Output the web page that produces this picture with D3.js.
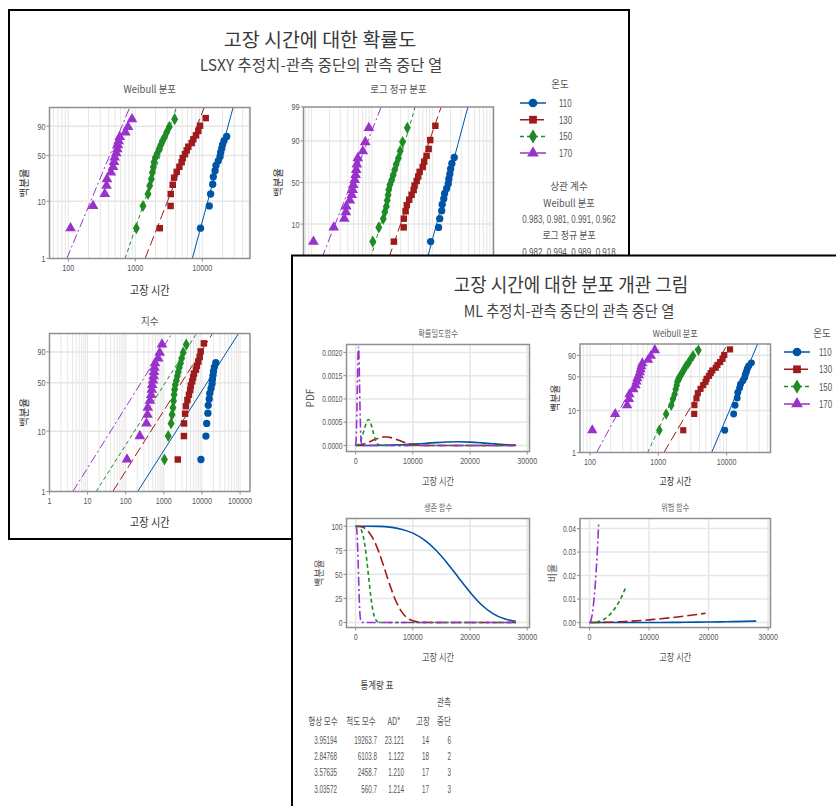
<!DOCTYPE html>
<html>
<head>
<meta charset="utf-8">
<script src="https://cdn.jsdelivr.net/npm/d3@7"></script>
<style>
  body { margin: 0; background: #fff; }
  svg text { font-family: "Noto Sans CJK KR", "Noto Sans", sans-serif; }
  svg text.num { font-family: "Liberation Sans", "Noto Sans", sans-serif; }
</style>
</head>
<body>
<svg id="chart" width="836" height="806"></svg>
<script>
// ---- groups ----
const temps = ["110", "130", "150", "170"];
const colors = ["#0054a6", "#9e1b1b", "#1e8b24", "#9932cc"];
const dashes = [null, "10,4", "4,3", "9,3,2,3"];
const symbols = [d3.symbolCircle, d3.symbolSquare, d3.symbolDiamond, d3.symbolTriangle];

// ---- failure times and plotting positions (%) ----
const fail110 = [9400, 12700, 13300, 14300, 14600, 15500, 16000, 17300, 18400, 18800, 19500, 20100, 21100, 23100];
const pct110  = [3.43, 8.33, 13.24, 19.12, 25.0, 30.88, 36.76, 42.65, 48.53, 54.41, 60.29, 66.18, 72.06, 77.94];
const fail130 = [2320, 3360, 3380, 3620, 3790, 4150, 4550, 4920, 5100, 5520, 5850, 6180, 6940, 7340, 8050, 8710, 9250, 11240];
const pct130  = [3.43, 8.33, 13.24, 18.75, 24.26, 29.78, 35.29, 40.81, 46.32, 51.84, 57.35, 62.87, 68.38, 73.9, 79.41, 84.93, 90.44, 95.96];
const fail150 = [1036, 1303, 1547, 1639, 1735, 1796, 1858, 1902, 1991, 2133, 2258, 2391, 2532, 2744, 2940, 3221, 3869];
const pct150  = [3.43, 8.33, 13.24, 18.14, 23.04, 29.07, 35.1, 41.13, 47.16, 53.19, 59.22, 65.25, 71.27, 77.3, 83.33, 89.36, 95.39];
const fail170 = [108, 234, 350, 372, 378, 432, 465, 481, 493, 520, 539, 552, 565, 585, 710, 778, 893];
const pct170  = [3.43, 8.33, 13.24, 18.14, 23.04, 29.07, 35.1, 41.13, 47.16, 53.19, 59.22, 65.25, 71.27, 77.3, 83.33, 89.36, 95.39];

// ---- fitted lines: time at the lower and upper plotted percent ----
const wblLsxyLow  = [7100, 1400, 705, 95];
const wblLsxyHigh = [28800, 10700, 4100, 824];
const lnLsxyLow   = [8320, 1910, 958, 149];
const lnLsxyHigh  = [38800, 14030, 5212, 1426];
const expLsxyLow  = [206, 45.7, 16.7, 4.1];
const expLsxyHigh = [90800, 18930, 7210, 1625];
const wblMlLow    = [6050, 1210, 700, 125];
const wblMlHigh   = [28500, 10400, 3800, 900];

// ---- correlation coefficients ----
const corrWeibull = ["0.983", "0.981", "0.991", "0.962"];
const corrLognormal = ["0.982", "0.994", "0.989", "0.918"];

// ---- PDF / survival curves ----
const grid110 = [0, 2000, 4000, 6000, 8000, 10000, 12000, 14000, 16000, 18000, 20000, 22000, 24000, 26000, 28000];
const pdf110  = [0, 0.0000003, 0.000002, 0.0000065, 0.0000148, 0.0000275, 0.0000435, 0.0000602, 0.0000734, 0.0000782, 0.0000719, 0.0000559, 0.0000362, 0.0000188, 0.0000077];
const surv110 = [100, 99.99, 99.8, 99.0, 96.9, 92.8, 85.7, 75.3, 61.9, 46.5, 31.4, 18.4, 9.2, 3.8, 1.25];
const grid130 = [0, 1000, 2000, 3000, 4000, 5000, 5500, 6000, 7000, 8000, 9000, 10000, 11000, 12000, 14000, 28000];
const pdf130  = [0, 0.0000164, 0.000057, 0.00011, 0.000158, 0.000183, 0.000183, 0.000174, 0.000137, 0.0000886, 0.0000466, 0.0000196, 0.0000066, 0.0000017, 0, 0];
const surv130 = [100, 99.4, 95.9, 87.6, 74.1, 56.7, 47.6, 38.6, 22.8, 11.5, 4.87, 1.69, 0.47, 0.1, 0, 0];
const grid150 = [0, 500, 1000, 1500, 2000, 2250, 2500, 3000, 3500, 4000, 4500, 5000, 28000];
const pdf150  = [0, 0.0000239, 0.000137, 0.000343, 0.00053, 0.000559, 0.000525, 0.000317, 0.000105, 0.0000171, 0.0000012, 0, 0];
const surv150 = [100, 99.66, 96.07, 84.3, 62.0, 48.3, 34.6, 13.0, 2.92, 0.33, 0.02, 0, 0];
const grid170 = [0, 100, 200, 300, 400, 450, 500, 550, 600, 700, 800, 900, 1000, 1200, 1500, 28000];
const pdf170  = [0, 0.000161, 0.000635, 0.001305, 0.001903, 0.002072, 0.002117, 0.002027, 0.00182, 0.001196, 0.000589, 0.000211, 0.0000537, 0.000001, 0, 0];
const surv170 = [100, 99.47, 95.7, 86.1, 69.9, 59.9, 49.3, 38.9, 29.3, 14.1, 5.28, 1.49, 0.31, 0, 0, 0];

// ---- hazard curves ----
const hazT110 = [0, 2000, 4000, 6000, 8000, 10000, 12000, 14000, 16000, 18000, 20000, 22000, 24000, 26000, 28000];
const haz110  = [0, 0.0000003, 0.000002, 0.0000066, 0.0000153, 0.0000296, 0.0000507, 0.00008, 0.000119, 0.000168, 0.000229, 0.000304, 0.000393, 0.000497, 0.000619];
const hazT130 = [0, 1000, 2000, 3000, 4000, 5000, 6000, 7000, 8000, 9000, 10000, 11000, 12000, 14000, 16000, 18000, 19500];
const haz130  = [0, 0.0000165, 0.0000594, 0.000126, 0.000214, 0.000323, 0.000452, 0.000601, 0.000769, 0.000956, 0.001162, 0.001386, 0.001627, 0.002162, 0.00277, 0.003443, 0.00399];
const hazT150 = [0, 500, 1000, 1500, 2000, 2500, 3000, 3500, 4000, 4500, 5000, 5500, 6000];
const haz150  = [0, 0.000024, 0.000143, 0.000407, 0.000854, 0.001518, 0.002429, 0.003612, 0.005096, 0.006902, 0.009054, 0.011573, 0.014483];
const hazT170 = [0, 100, 200, 300, 400, 500, 600, 700, 800, 900, 1000, 1200, 1400, 1530];
const haz170  = [0, 0.000162, 0.000663, 0.001516, 0.002723, 0.004289, 0.006216, 0.008507, 0.011165, 0.014192, 0.017588, 0.02548, 0.03489, 0.0418];

// ---- statistics table ----
const tblShape = ["3.95194", "2.84768", "3.57635", "3.03572"];
const tblScale = ["19263.7", "6103.8", "2458.7", "560.7"];
const tblAD    = ["23.121", "1.122", "1.210", "1.214"];
const tblFail  = [14, 18, 17, 17];
const tblCens  = [6, 2, 3, 3];

// ---- tick values ----
const wblXTicks = [100, 1000, 10000];
const expXTicks = [1, 10, 100, 1000, 10000, 100000];
const lnXTicks  = [100, 1000, 10000, 100000];
const wblYTicks = [1, 10, 50, 90];
const lnYTicks  = [1, 10, 50, 90, 99];
const timeTicks = [0, 10000, 20000, 30000];
const pdfTicks  = [0, 0.0005, 0.001, 0.0015, 0.002];
const survTicks = [0, 25, 50, 75, 100];
const hazTicks  = [0, 0.01, 0.02, 0.03, 0.04];

const failTimes = [fail110, fail130, fail150, fail170];
const failPct = [pct110, pct130, pct150, pct170];
const curveGrid = [grid110, grid130, grid150, grid170];
const pdfVals = [pdf110, pdf130, pdf150, pdf170];
const survVals = [surv110, surv130, surv150, surv170];
const hazGrid = [hazT110, hazT130, hazT150, hazT170];
const hazVals = [haz110, haz130, haz150, haz170];

// probability-scale transforms
const weibullTf = p => Math.log(-Math.log(1 - p));
function probit(p) {
  const a = [-3.969683028665376e+01, 2.209460984245205e+02, -2.759285104469687e+02, 1.383577518672690e+02, -3.066479806614716e+01, 2.506628277459239e+00];
  const b = [-5.447609879822406e+01, 1.615858368580409e+02, -1.556989798598866e+02, 6.680131188771972e+01, -1.328068155288572e+01];
  const c = [-7.784894002430293e-03, -3.223964580411365e-01, -2.400758277161838e+00, -2.549732539343734e+00, 4.374664141464968e+00, 2.938163982698783e+00];
  const d = [7.784695709041462e-03, 3.224671290700398e-01, 2.445134137142996e+00, 3.754408661907416e+00];
  const pl = 0.02425;
  let q, r;
  if (p < pl) {
    q = Math.sqrt(-2 * Math.log(p));
    return (((((c[0]*q+c[1])*q+c[2])*q+c[3])*q+c[4])*q+c[5]) / ((((d[0]*q+d[1])*q+d[2])*q+d[3])*q+1);
  }
  if (p > 1 - pl) {
    q = Math.sqrt(-2 * Math.log(1 - p));
    return -(((((c[0]*q+c[1])*q+c[2])*q+c[3])*q+c[4])*q+c[5]) / ((((d[0]*q+d[1])*q+d[2])*q+d[3])*q+1);
  }
  q = p - 0.5; r = q * q;
  return (((((a[0]*r+a[1])*r+a[2])*r+a[3])*r+a[4])*r+a[5])*q / (((((b[0]*r+b[1])*r+b[2])*r+b[3])*r+b[4])*r+1);
}

const svg = d3.select("#chart");
const GRID = "#e6e6e6", BOX = "#8f8f8f", TXT = "#444";

// text helper; sx squeezes the text horizontally about its anchor
function label(g, txt, x, y, size, opts = {}) {
  const sx = opts.sx || 1;
  const t = g.append("text").attr("font-size", size)
    .attr("fill", opts.fill || TXT).attr("text-anchor", opts.anchor || "middle").text(txt);
  if (opts.cls) t.attr("class", opts.cls);
  if (opts.rotate) {
    t.attr("x", x).attr("y", y).attr("transform", `rotate(-90,${x},${y})`);
  } else {
    t.attr("x", x / sx).attr("y", y).attr("transform", sx === 1 ? null : `scale(${sx},1)`);
  }
  return t;
}

let clipN = 0;
function clipFor(g, x0, y0, x1, y1) {
  const id = "clip" + (clipN++);
  g.append("clipPath").attr("id", id).append("rect")
    .attr("x", x0).attr("y", y0).attr("width", x1 - x0).attr("height", y1 - y0);
  return `url(#${id})`;
}

// probability plot panel (log time axis against a probability scale)
function probPanel(o) {
  const g = svg.append("g");
  const x = d3.scaleLog().domain(o.xDom).range([o.x0, o.x1]);
  const y = d3.scaleLinear().domain([o.tf(o.pDom[0] / 100), o.tf(o.pDom[1] / 100)]).range([o.y1, o.y0]);
  const py = p => y(o.tf(p / 100));
  const ts = o.tickSize || 9.5, tsx = o.tickSx || 0.76;

  const minor = [];
  const lo = Math.floor(Math.log10(o.xDom[0])), hi = Math.ceil(Math.log10(o.xDom[1]));
  for (let e = lo; e <= hi; e++) for (let k = 1; k <= 9; k++) {
    const v = k * Math.pow(10, e);
    if (v > o.xDom[0] && v < o.xDom[1]) minor.push(v);
  }
  g.selectAll(null).data(minor).join("line")
    .attr("x1", d => x(d)).attr("x2", d => x(d)).attr("y1", o.y0).attr("y2", o.y1)
    .attr("stroke", GRID).attr("stroke-width", 1);
  g.selectAll(null).data(o.yTicks.filter(p => py(p) > o.y0 + 1 && py(p) < o.y1 - 1)).join("line")
    .attr("x1", o.x0).attr("x2", o.x1).attr("y1", d => py(d)).attr("y2", d => py(d))
    .attr("stroke", GRID).attr("stroke-width", 1.5);

  const pg = g.append("g").attr("clip-path", clipFor(g, o.x0, o.y0, o.x1, o.y1));
  temps.forEach((t, i) => {
    pg.append("line")
      .attr("x1", x(o.low[i])).attr("y1", py(o.pDom[0]))
      .attr("x2", x(o.high[i])).attr("y2", py(o.pDom[1]))
      .attr("stroke", colors[i]).attr("stroke-width", 1)
      .attr("stroke-dasharray", dashes[i]);
  });
  temps.forEach((t, i) => {
    g.selectAll(null).data(failTimes[i].map((v, j) => [v, failPct[i][j]])).join("path")
      .attr("d", d3.symbol(symbols[i], i === 3 ? o.ms + 8 : o.ms))
      .attr("transform", d => `translate(${x(d[0])},${py(d[1])})`)
      .attr("fill", colors[i]);
  });

  g.append("rect").attr("x", o.x0).attr("y", o.y0).attr("width", o.x1 - o.x0).attr("height", o.y1 - o.y0)
    .attr("fill", "none").attr("stroke", BOX).attr("stroke-width", 1.5);

  o.xTicks.forEach(v => {
    g.append("line").attr("x1", x(v)).attr("x2", x(v)).attr("y1", o.y1).attr("y2", o.y1 + 3).attr("stroke", BOX);
    if (o.xTickLabels !== false) label(g, String(v), x(v), o.y1 + 13, ts, { cls: "num", fill: "#555", sx: tsx });
  });
  o.yTicks.forEach(p => {
    g.append("line").attr("x1", o.x0 - 3).attr("x2", o.x0).attr("y1", py(p)).attr("y2", py(p)).attr("stroke", BOX);
    label(g, String(p), o.x0 - 4, py(p) + 3.5, ts, { cls: "num", fill: "#555", anchor: "end", sx: tsx });
  });
  label(g, o.title, (o.x0 + o.x1) / 2, o.titleY, o.titleSize || 10.5, { fill: "#555", sx: o.titleSx || 0.9 });
  if (o.xlabel) label(g, o.xlabel, (o.x0 + o.x1) / 2, o.xlabelY, o.xlabelSize || 12, { fill: "#333", sx: o.xlabelSx || 0.85 });
  label(g, "백분율", o.ylabelX, (o.y0 + o.y1) / 2, o.ylabelSize || 10.5, { fill: "#333", rotate: true });
}

// time-axis curve panel (PDF, survival, hazard)
function curvePanel(o) {
  const g = svg.append("g");
  const x = d3.scaleLinear().domain([-1600, 30400]).range([o.x0, o.x1]);
  const y = d3.scaleLinear().domain(o.yDom).range([o.y1, o.y0]);
  g.selectAll(null).data(timeTicks.filter(v => x(v) < o.x1 - 2)).join("line")
    .attr("x1", d => x(d)).attr("x2", d => x(d)).attr("y1", o.y0).attr("y2", o.y1)
    .attr("stroke", GRID).attr("stroke-width", 1.5);
  g.selectAll(null).data(o.yTicks).join("line")
    .attr("x1", o.x0).attr("x2", o.x1).attr("y1", d => y(d)).attr("y2", d => y(d))
    .attr("stroke", GRID).attr("stroke-width", 1.5);

  const pg = g.append("g").attr("clip-path", clipFor(g, o.x0, o.y0, o.x1, o.y1));
  const line = d3.line().x(d => x(d[0])).y(d => y(d[1])).curve(d3.curveMonotoneX);
  temps.forEach((t, i) => {
    const pts = o.grids[i].map((v, j) => [v, o.vals[i][j]]);
    pg.append("path").attr("d", line(pts)).attr("fill", "none")
      .attr("stroke", colors[i]).attr("stroke-width", 1.6)
      .attr("stroke-dasharray", dashes[i]);
  });

  g.append("rect").attr("x", o.x0).attr("y", o.y0).attr("width", o.x1 - o.x0).attr("height", o.y1 - o.y0)
    .attr("fill", "none").attr("stroke", BOX).attr("stroke-width", 1.5);
  timeTicks.forEach(v => {
    g.append("line").attr("x1", x(v)).attr("x2", x(v)).attr("y1", o.y1).attr("y2", o.y1 + 3).attr("stroke", BOX);
    label(g, String(v), x(v), o.y1 + 13, 9.5, { cls: "num", fill: "#555", sx: 0.75 });
  });
  o.yTicks.forEach(v => {
    g.append("line").attr("x1", o.x0 - 3).attr("x2", o.x0).attr("y1", y(v)).attr("y2", y(v)).attr("stroke", BOX);
    label(g, o.fmt(v), o.x0 - 4, y(v) + 3.3, 9.5, { cls: "num", fill: "#555", anchor: "end", sx: 0.7 });
  });
  label(g, o.title, (o.x0 + o.x1) / 2, o.y0 - 7, 9, { fill: "#666", sx: 0.8 });
  label(g, "고장 시간", (o.x0 + o.x1) / 2, o.y1 + 34, 10.5, { fill: "#555", sx: 0.78 });
  label(g, o.ylabel, o.ylabelX, (o.y0 + o.y1) / 2, 10, { fill: "#555", rotate: true });
}

function legend(x0, y0, dy, labelDx, titleDx) {
  const g = svg.append("g");
  label(g, "온도", x0 + titleDx, y0 - 15, 10.5, { fill: "#555", sx: 0.9 });
  temps.forEach((t, i) => {
    const yy = y0 + i * dy;
    g.append("line").attr("x1", x0).attr("x2", x0 + 26).attr("y1", yy).attr("y2", yy)
      .attr("stroke", colors[i]).attr("stroke-width", 1.5).attr("stroke-dasharray", dashes[i]);
    g.append("path").attr("d", d3.symbol(symbols[i], 60)).attr("transform", `translate(${x0 + 13},${yy})`)
      .attr("fill", colors[i]);
    label(g, t, x0 + labelDx, yy + 4, 10.5, { cls: "num", fill: "#555", anchor: "start", sx: 0.75 });
  });
}

// ================= back window: probability plots (LSXY) =================
svg.append("rect").attr("x", 9).attr("y", 10).attr("width", 620).attr("height", 529)
  .attr("fill", "#fff").attr("stroke", "#000").attr("stroke-width", 2);
label(svg, "고장 시간에 대한 확률도", 320, 47, 19.5, { fill: "#383838" });
label(svg, "LSXY 추정치-관측 중단의 관측 중단 열", 321, 71, 15.5, { fill: "#444" });

probPanel({ x0: 49.5, x1: 250, y0: 107.5, y1: 258.5, xDom: [52.4, 51500], pDom: [1, 99.3], tf: weibullTf,
  xTicks: wblXTicks, yTicks: wblYTicks, low: wblLsxyLow, high: wblLsxyHigh, ms: 42,
  title: "Weibull 분포", titleY: 93, xlabel: "고장 시간", xlabelY: 295, ylabelX: 28 });
probPanel({ x0: 303.5, x1: 493.5, y0: 107, y1: 258, xDom: [74, 103000], pDom: [1, 99], tf: probit,
  xTicks: lnXTicks, xTickLabels: false, yTicks: lnYTicks, low: lnLsxyLow, high: lnLsxyHigh, ms: 42,
  title: "로그 정규 분포", titleY: 93, ylabelX: 282 });
probPanel({ x0: 49.5, x1: 250, y0: 333.5, y1: 491.5, xDom: [1, 182000], pDom: [1, 99.1], tf: weibullTf,
  xTicks: expXTicks, yTicks: wblYTicks, low: expLsxyLow, high: expLsxyHigh, ms: 42,
  title: "지수", titleY: 325, xlabel: "고장 시간", xlabelY: 527, ylabelX: 28 });

legend(520, 103, 16.7, 39, 40);
{
  const g = svg.append("g");
  label(g, "상관 계수", 569, 190, 10.5, { fill: "#555", sx: 0.92 });
  label(g, "Weibull 분포", 569, 207, 10.5, { fill: "#555", sx: 0.88 });
  label(g, corrWeibull.join(", "), 569, 223, 10, { cls: "num", fill: "#555", sx: 0.8 });
  label(g, "로그 정규 분포", 569, 239, 10.5, { fill: "#555", sx: 0.85 });
  label(g, corrLognormal.join(", "), 569, 256, 10, { cls: "num", fill: "#555", sx: 0.8 });
}

// ================= front window: distribution overview (ML) =================
svg.append("rect").attr("x", 292).attr("y", 255.5).attr("width", 600).attr("height", 600)
  .attr("fill", "#fff").attr("stroke", "#000").attr("stroke-width", 2);
label(svg, "고장 시간에 대한 분포 개관 그림", 571, 292, 19.5, { fill: "#383838", sx: 0.92 });
label(svg, "ML 추정치-관측 중단의 관측 중단 열", 569, 317, 15.5, { fill: "#444", sx: 0.92 });

curvePanel({ x0: 346.5, x1: 529.5, y0: 344.5, y1: 451.5, yDom: [-0.00013, 0.00217], yTicks: pdfTicks,
  fmt: d3.format(".4f"), grids: curveGrid, vals: pdfVals, title: "확률밀도함수", ylabel: "PDF", ylabelX: 314 });
probPanel({ x0: 580, x1: 770.5, y0: 344, y1: 452.5, xDom: [71.4, 43950], pDom: [1, 98.7], tf: weibullTf,
  xTicks: wblXTicks, yTicks: wblYTicks, low: wblMlLow, high: wblMlHigh, ms: 38, tickSize: 9.5, tickSx: 0.75,
  title: "Weibull 분포", titleY: 337, titleSize: 9.5, titleSx: 0.85,
  xlabel: "고장 시간", xlabelY: 485, xlabelSize: 10.5, xlabelSx: 0.78, ylabelX: 559, ylabelSize: 10 });
curvePanel({ x0: 346.5, x1: 529.5, y0: 518.5, y1: 627.5, yDom: [-5.2, 108], yTicks: survTicks,
  fmt: d3.format("d"), grids: curveGrid, vals: survVals, title: "생존 함수", ylabel: "백분율", ylabelX: 323 });
curvePanel({ x0: 580, x1: 770.5, y0: 518.5, y1: 627.5, yDom: [-0.0021, 0.0443], yTicks: hazTicks,
  fmt: d3.format(".2f"), grids: hazGrid, vals: hazVals, title: "위험 함수", ylabel: "비율", ylabelX: 556 });

legend(784, 352, 17.3, 35, 38);

// statistics table
{
  const g = svg.append("g");
  label(g, "통계량 표", 377, 689, 10.5, { fill: "#444", sx: 0.8 });
  label(g, "관측", 444, 706, 10.5, { fill: "#555", sx: 0.72 });
  const hx = [323, 361, 394, 423, 444];
  ["형상 모수", "척도 모수", "AD*", "고장", "중단"].forEach((h, i) => label(g, h, hx[i], 725, 10.5, { fill: "#555", sx: 0.72 }));
  const cols = [tblShape, tblScale, tblAD, tblFail, tblCens];
  const rx = [337, 377, 404, 429, 451];
  temps.forEach((t, r) => {
    cols.forEach((col, c) => label(g, String(col[r]), rx[c], 744 + r * 16.2, 10.5, { cls: "num", fill: "#555", anchor: "end", sx: 0.6 }));
  });
}
</script>
</body>
</html>
